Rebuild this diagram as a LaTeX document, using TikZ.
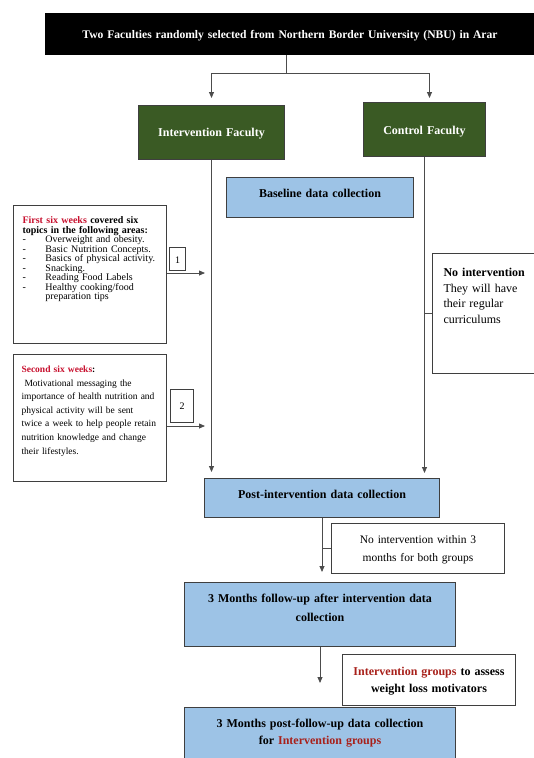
\documentclass[tikz,border=0pt]{standalone}
\usepackage{fontspec}
\setmainfont{Liberation Serif}
\usetikzlibrary{arrows.meta}
\definecolor{facgreen}{HTML}{3A5A24}
\definecolor{datablue}{HTML}{9DC3E6}
\definecolor{boxline}{HTML}{3F3F3F}
\definecolor{keyred}{HTML}{C8102E}
\definecolor{grpred}{HTML}{A8201A}
\tikzset{
  box/.style={draw=boxline, line width=1pt, anchor=north west, inner ysep=0pt, inner xsep=6pt, align=center},
  titlebox/.style={box, draw=black, fill=black, text=white, font=\bfseries\fontsize{11.6}{14}\selectfont},
  facbox/.style={box, fill=facgreen, text=white, font=\bfseries\fontsize{12}{14}\selectfont},
  databox/.style={box, fill=datablue, font=\bfseries\fontsize{12}{17}\selectfont},
  notebox/.style={box, fill=white, align=left},
  flow/.style={draw=black!70, line width=0.8pt, -{Triangle[length=6pt,width=5pt]}},
  tick/.style={draw=black!70, line width=0.8pt},
}
\newcommand{\topic}[1]{\makebox[23pt][l]{-}#1}

\begin{document}
\begin{tikzpicture}[x=1pt,y=-1pt]
    \useasboundingbox (0,0) rectangle (534,758);
    % selection and the two faculties
    \node[titlebox, text width=477pt, text height=24.5pt, text depth=16.5pt] (title) at (45,13)
        {Two Faculties randomly selected from Northern Border University (NBU) in Arar};
    \node[facbox, text width=134pt, text height=31pt, text depth=23pt] (intF) at (138,105) {Intervention Faculty};
    \node[facbox, text width=110pt, text height=32pt, text depth=22pt] (ctrlF) at (363,102) {Control Faculty};
    \node[databox, text width=175pt, text height=20pt, text depth=20pt] (base) at (226,177) {Baseline data collection};

    % the two intervention phases
    \node[notebox, inner xsep=9pt, text width=135pt, text height=18pt, text depth=120pt,
          font=\fontsize{10}{9.5}\selectfont] (first) at (13,205)
        {{\bfseries\textcolor{keyred}{First six weeks} covered six\\ topics in the following areas:}\\
         \topic{Overweight and obesity.}\\
         \topic{Basic Nutrition Concepts.}\\
         \topic{Basics of physical activity.}\\
         \topic{Snacking.}\\
         \topic{Reading Food Labels}\\
         \topic{Healthy cooking/food}\\
         \hspace*{23pt}preparation tips};
    \node[box, inner xsep=0pt, text width=16pt, text height=15.5pt, text depth=7.5pt,
          font=\fontsize{10}{12}\selectfont] (one) at (169,247) {1};
    \node[notebox, inner xsep=8pt, text width=137pt, text height=18pt, text depth=109pt,
          font=\fontsize{9.5}{13.6}\selectfont] (second) at (13,354)
        {{\bfseries\textcolor{keyred}{Second six weeks}:}\\
         \hspace*{3pt}Motivational messaging the\\
         importance of health nutrition and\\
         physical activity will be sent\\
         twice a week to help people retain\\
         nutrition knowledge and change\\
         their lifestyles.};
    \node[box, inner xsep=0pt, text width=23pt, text height=20pt, text depth=13pt,
          font=\fontsize{10}{12}\selectfont] (two) at (170,389) {2};

    % control arm
    \node[notebox, inner xsep=11pt, text width=91pt, text height=23pt, text depth=97pt,
          font=\fontsize{12}{15.5}\selectfont] (noint) at (432,253)
        {\textbf{No intervention}\\ They will have\\ their regular\\ curriculums};

    % follow-up stages
    \node[databox, text width=223pt, text height=20pt, text depth=19pt] (post) at (204,478) {Post-intervention data collection};
    \node[notebox, align=center, text width=161pt, text height=20pt, text depth=30pt,
          font=\fontsize{11.5}{18}\selectfont] (noint3) at (331,523)
        {No intervention within 3\\ months for both groups};
    \node[databox, font=\bfseries\fontsize{12}{19}\selectfont, text width=259pt, text height=20pt, text depth=44pt] (follow) at (184,582)
        {3 Months follow-up after intervention data\\ collection};
    \node[notebox, align=center, text width=161pt, text height=21pt, text depth=30pt,
          font=\bfseries\fontsize{12}{17}\selectfont] (motiv) at (342,654)
        {\textcolor{grpred}{Intervention groups} to assess\\ weight loss motivators};
    \node[databox, text width=259pt, text height=20pt, text depth=50pt] (final) at (184,707)
        {3 Months post-follow-up data collection\\ for \textcolor{grpred}{Intervention groups}};

    % connectors
    \coordinate (split) at (286,73);
    \coordinate (in1) at (205,273);
    \coordinate (in2) at (205,426);
    \draw[tick] (split |- title.south) -- (split);
    \draw[flow, shorten >=7pt] (split) -| (intF.north);
    \draw[flow, shorten >=4pt] (split) -| ([xshift=5pt]ctrlF.north);
    \draw[flow, shorten >=6pt] (intF.south) -- (intF.south |- post.north);
    \draw[flow, shorten >=5pt] (ctrlF.south) -- (ctrlF.south |- post.north);
    \draw[flow] (first.east |- in1) -- (in1);
    \draw[flow] (second.east |- in2) -- (in2);
    \draw[tick] (noint.west) -- (noint.west -| ctrlF.south);
    \draw[flow, shorten >=10pt] (post.south) -- (post.south |- follow.north);
    \draw[tick] (noint3.west) -- (noint3.west -| post.south);
    \draw[flow, shorten >=24pt] (follow.south) -- (follow.south |- final.north);
\end{tikzpicture}
\end{document}
